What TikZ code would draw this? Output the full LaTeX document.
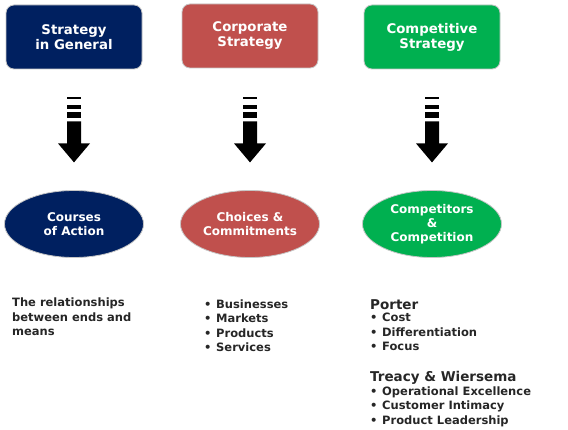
\documentclass[tikz,border=0pt]{standalone}
\usepackage{fontspec}
\setmainfont{DejaVu Sans}
\usepackage{xcolor}
\usetikzlibrary{shapes.geometric,positioning}

\definecolor{navyblue}{HTML}{002060}
\definecolor{brickred}{HTML}{C0504D}
\definecolor{leafgreen}{HTML}{00B050}

\newcommand\bul{\makebox[12pt][l]{\textbullet}}

\tikzset{
  pics/stripedarrow/.style={code={
    \fill (-7,0) rectangle (7,2);
    \fill (-7,8) rectangle (7,12);
    \fill (-7,15) rectangle (7,21);
    \fill (-7,24) -- (7,24) -- (7,46) -- (16,46) -- (0,65) -- (-16,46) -- (-7,46) -- cycle;
  }}
}

\begin{document}
\begin{tikzpicture}[
    x=1pt,y=-1pt,
    top box/.style={rectangle,rounded corners=8pt,draw=gray!45,line width=0.8pt,minimum width=136pt,minimum height=64pt,text=white,align=center,font=\fontsize{13.3}{15}\selectfont\bfseries},
    result/.style={ellipse,draw=gray!45,line width=0.8pt,minimum width=139pt,minimum height=67pt,inner sep=0pt,text=white,align=center,font=\fontsize{12}{14}\selectfont\bfseries},
    notes/.style={anchor=base west,inner sep=0pt,align=left,text=black!85,font=\fontsize{11.5}{14.3}\selectfont\bfseries},
    heading/.style={anchor=base west,inner sep=0pt,text=black!85,font=\fontsize{13.5}{16}\selectfont\bfseries}
]
\useasboundingbox (0,0) rectangle (568,430);

% Strategy levels
\node[top box,fill=navyblue] (general) at (74,37) {Strategy\\in General};
\node[top box,fill=brickred] (corporate) at (250,36) {Corporate\\Strategy};
\node[top box,fill=leafgreen] (competitive) at (432,37) {Competitive\\Strategy};

% What each level deals with
\node[result,fill=navyblue] (courses) at (74,224) {Courses\\of Action};
\node[result,fill=brickred] (choices) at (250,224) {Choices \&\\Commitments};
\node[result,fill=leafgreen] (competitors) at (432,224) {Competitors\\\&\\Competition};

% Arrows
\pic at ([yshift=-28pt]general.south) {stripedarrow};
\pic at ([yshift=-29pt]corporate.south) {stripedarrow};
\pic at ([yshift=-28pt]competitive.south) {stripedarrow};

% Notes (placed at the baseline of their last line)
\node[notes] (ends) at (12,335.6) {The relationships\\between ends and\\means};
\node[notes] (scope) at (204,351.4) {\bul Businesses\\\bul Markets\\\bul Products\\\bul Services};
\node[heading] (porter) at (370,310) {Porter};
\node[notes] (porterlist) at (370,350.6) {\bul Cost\\\bul Differentiation\\\bul Focus};
\node[heading] (treacy) at (370,382) {Treacy \& Wiersema};
\node[notes] (treacylist) at (370,424.1) {\bul Operational Excellence\\\bul Customer Intimacy\\\bul Product Leadership};

\end{tikzpicture}
\end{document}
